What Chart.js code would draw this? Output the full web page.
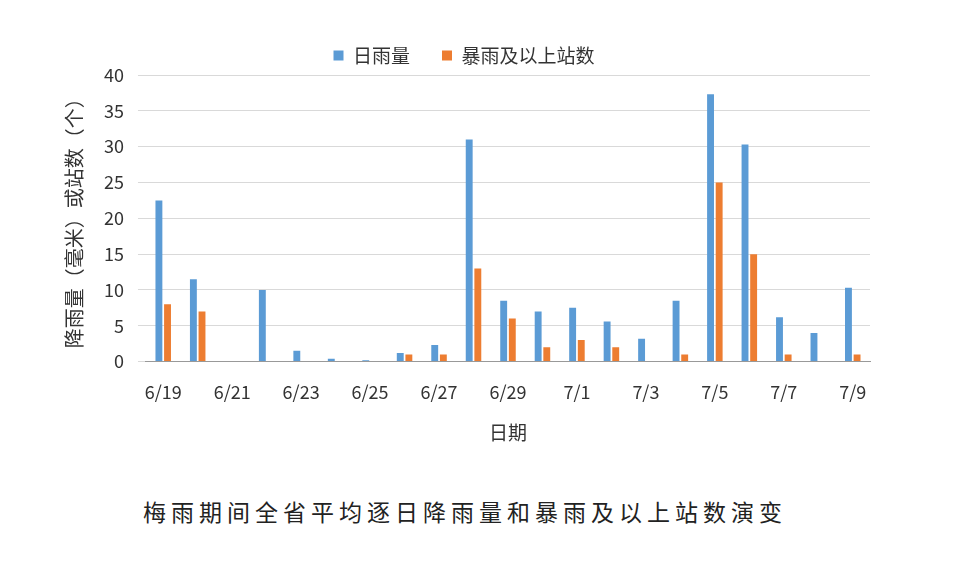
<!DOCTYPE html>
<html><head><meta charset="utf-8">
<script src="https://cdn.jsdelivr.net/npm/chart.js@4/dist/chart.umd.min.js"></script>
<style>body{margin:0;background:#fff;width:960px;height:565px;position:relative;overflow:hidden;font-family:"Noto Sans CJK SC";}
#w{position:absolute;left:0;top:0;width:960px;height:448px}
#cap{position:absolute;left:143px;top:494px;font-size:23px;color:#222;letter-spacing:5px}</style>
</head><body>
<div id="w"><canvas id="c"></canvas></div>
<div id="cap">梅雨期间全省平均逐日降雨量和暴雨及以上站数演变</div>
<script>
const categories=["6/19","6/20","6/21","6/22","6/23","6/24","6/25","6/26","6/27","6/28","6/29","6/30","7/1","7/2","7/3","7/4","7/5","7/6","7/7","7/8","7/9"];
const rain=[22.5,11.5,0,10,1.5,0.4,0.2,1.2,2.3,31,8.5,7,7.5,5.6,3.2,8.5,37.3,30.3,6.2,4,10.3];
const stations=[8,7,0,0,0,0,0,1,1,13,6,2,3,2,0,1,25,15,1,0,1];
const f="Noto Sans CJK SC";
new Chart(document.getElementById('c'),{type:'bar',
data:{labels:categories,datasets:[
{label:'日雨量',data:rain,backgroundColor:'#5b9bd5'},
{label:'暴雨及以上站数',data:stations,backgroundColor:'#ed7d31'}]},
options:{responsive:true,maintainAspectRatio:false,animation:false,
layout:{padding:{left:58,right:90,top:14,bottom:0}},
datasets:{bar:{categoryPercentage:0.5,barPercentage:0.8}},
plugins:{legend:{labels:{font:{family:f,size:19},color:'#333',boxWidth:10,boxHeight:10,padding:32}},tooltip:{enabled:false}},
scales:{x:{grid:{display:false},border:{color:'#999'},
ticks:{autoSkip:false,maxRotation:0,font:{family:f,size:18},color:'#333',padding:12,callback:function(v,i){return i%2===0?categories[i]:'';}},
title:{display:true,text:'日期',font:{family:f,size:19},color:'#333',padding:{top:6}}},
y:{min:0,max:40,ticks:{stepSize:5,font:{family:f,size:18},color:'#333',padding:14},grid:{color:'#d9d9d9'},border:{display:false},
title:{display:true,text:'降雨量（毫米）或站数（个）',font:{family:f,size:20},color:'#333'}}}}});
</script></body></html>
